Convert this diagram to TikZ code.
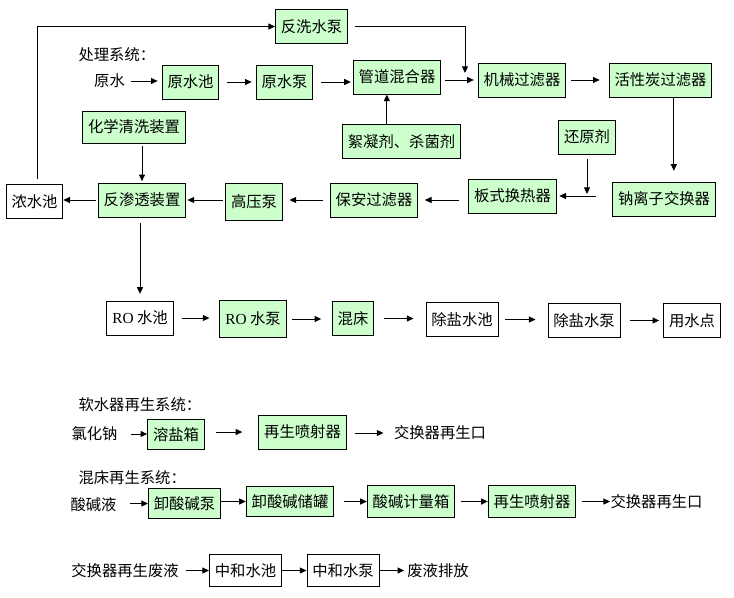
\documentclass[tikz,border=0pt]{standalone}
\usepackage{fontspec}
\setmainfont{Noto Sans CJK SC}
\newfontfamily\romanfont{Liberation Serif}
\usetikzlibrary{
		arrows.meta,
		positioning
	}
\definecolor{boxgreen}{HTML}{CCFFCC}
\tikzset{
		>={Triangle[length=5pt,width=4.5pt]},
		box/.style={draw,fill=boxgreen,inner xsep=4pt,inner ysep=0pt,minimum height=25.5pt},
		pool/.style={box,fill=white},
		word/.style={inner sep=0pt},
		flow/.style={->,shorten <=4.5pt,shorten >=3pt}
	}

\begin{document}
\begin{tikzpicture}[x=0.75pt,y=-0.75pt,line width=0.75pt,font=\fontsize{11.5pt}{13pt}\selectfont]
\useasboundingbox (0,0) rectangle (734,597);

\node[word,anchor=west] (chuli) at (78,55) {处理系统：};
\node[word] (yuanshui) at (109.5,81) {原水};
\node[box] (yuanshuichi) at (190.5,82) {原水池};
\node[box] (yuanshuibeng) at (284.5,82) {原水泵};
\node[box] (guandao) at (397,77) {管道混合器};
\node[box] (jixie) at (522,80) {机械过滤器};
\node[box] (huoxing) at (660.5,80) {活性炭过滤器};
\node[box] (fanxi) at (311.5,26.5) {反洗水泵};
\node[box] (xuning) at (401.5,141.5) {絮凝剂、杀菌剂};
\node[box] (huanyuan) at (587,137) {还原剂};
\node[box,minimum height=24pt] (huaxue) at (134,127) {化学清洗装置};
\node[box] (nali) at (664,199) {钠离子交换器};
\node[box] (banshi) at (512.5,196) {板式换热器};
\node[box] (baoan) at (374,200) {保安过滤器};
\node[box,minimum height=28pt] (gaoya) at (254,202) {高压泵};
\node[box] (fanshen) at (142,200) {反渗透装置};
\node[pool] (nongshui) at (34.5,201.5) {浓水池};

\node[pool] (ROchi) at (140,318) {{\romanfont RO} 水池};
\node[box,minimum height=28pt] (RObeng) at (253,319) {{\romanfont RO} 水泵};
\node[box] (hunchuang) at (353,318.5) {混床};
\node[pool] (chuyanchi) at (462,319.5) {除盐水池};
\node[pool] (chuyanbeng) at (584,320.5) {除盐水泵};
\node[pool] (yongshui) at (692,320.5) {用水点};

\node[word,anchor=west] (ruanshui) at (78,405) {软水器再生系统：};
\node[word] (lvhuana) at (94.5,434) {氯化钠};
\node[box,minimum height=22pt] (rongyan) at (176,434.5) {溶盐箱};
\node[box] (penshe) at (302.5,432) {再生喷射器};
\node[word] (kou) at (440,433) {交换器再生口};

\node[word,anchor=west] (hunchuangxi) at (78,478) {混床再生系统：};
\node[word] (suanjianye) at (93.5,505) {酸碱液};
\node[box,minimum height=23pt] (xiebeng) at (184.5,503.5) {卸酸碱泵};
\node[box,minimum height=23pt] (xieguan) at (290,501.5) {卸酸碱储罐};
\node[box,minimum height=24.5pt] (jiliang) at (411,501.5) {酸碱计量箱};
\node[box,minimum height=24.5pt] (penshe2) at (532,501.5) {再生喷射器};
\node[word] (kou2) at (656.5,502) {交换器再生口};

\node[word] (feiye) at (125,571) {交换器再生废液};
\node[pool,minimum height=24.5pt] (zhonghechi) at (245.5,570.5) {中和水池};
\node[pool,minimum height=24.5pt] (zhonghebeng) at (343,570.5) {中和水泵};
\node[word] (paifang) at (438,571) {废液排放};

\coordinate (fanxiend) at (465,73);

\draw[flow] (yuanshui.east) -- (yuanshui.east -| yuanshuichi.west);
\draw[flow,shorten <=6pt] (yuanshuichi.east) -- (yuanshuichi.east -| yuanshuibeng.west);
\draw[flow,shorten <=6pt,shorten >=1.5pt] (yuanshuibeng.east) -- (yuanshuibeng.east -| guandao.west);
\draw[flow,shorten <=3pt] (guandao.east |- jixie.west) -- (jixie.west);
\draw[flow,shorten <=3.75pt,shorten >=6.75pt] (jixie.east) -- (jixie.east -| huoxing.west);
\draw[flow,shorten <=5pt,shorten >=0pt] (fanxi.east) -| (fanxiend);
\draw[flow,shorten <=0pt,shorten >=0pt] ([xshift=-11pt]xuning.north) -- ([xshift=-11pt]xuning.north |- guandao.south);
\draw[flow,shorten <=0pt,shorten >=8pt] ([xshift=10pt]huoxing.south) -- ([xshift=10pt]huoxing.south |- nali.north);
\draw[flow,shorten <=12pt,shorten >=2pt] (nali.west |- banshi.east) -- (banshi.east);
\draw[flow,shorten <=3.5pt,shorten >=1.5pt] (huanyuan) -- (huanyuan |- banshi.east);
\draw[flow,shorten <=6.75pt,shorten >=5pt] (banshi.west |- baoan.east) -- (baoan.east);
\draw[flow,shorten <=5pt,shorten >=5pt] (baoan.west) -- (baoan.west -| gaoya.east);
\draw[flow,shorten <=2pt,shorten >=1pt] (gaoya.west |- fanshen.east) -- (fanshen.east);
\draw[flow,shorten <=1.5pt,shorten >=0pt] (fanshen.west) -- (fanshen.west -| nongshui.east);
\draw[flow,shorten <=2pt,shorten >=1pt] (fanshen |- huaxue.south) -- (fanshen.north);
\draw[flow,shorten <=3.4pt,shorten >=0pt] ([xshift=2.6pt]nongshui.north) |- (fanxi.west);
\draw[flow,shorten <=4pt,shorten >=5pt] (ROchi |- fanshen.south) -- (ROchi.north);

\draw[flow,shorten <=6pt,shorten >=7.5pt] (ROchi.east) -- (ROchi.east -| RObeng.west);
\draw[flow,shorten <=3.75pt,shorten >=8pt] (RObeng.east) -- (RObeng.east -| hunchuang.west);
\draw[flow,shorten <=7.5pt,shorten >=9pt] (hunchuang.east) -- (hunchuang.east -| chuyanchi.west);
\draw[flow,shorten <=5pt,shorten >=9pt] (chuyanchi.east) -- (chuyanchi.east -| chuyanbeng.west);
\draw[flow,shorten <=7pt,shorten >=3pt] (chuyanbeng.east) -- (chuyanbeng.east -| yongshui.west);

\draw[flow,shorten <=10pt,shorten >=0pt] (lvhuana.east) -- (lvhuana.east -| rongyan.west);
\draw[flow,shorten <=8pt,shorten >=12pt] (rongyan.east |- penshe.west) -- (penshe.west);
\draw[flow,shorten <=6pt,shorten >=7.5pt] (penshe.east |- kou.west) -- (kou.west);

\draw[flow,shorten <=10pt,shorten >=0pt] (suanjianye.east |- xiebeng.west) -- (xiebeng.west);
\draw[flow,shorten <=0pt,shorten >=0pt] (xiebeng.east |- xieguan.west) -- (xieguan.west);
\draw[flow,shorten <=7pt,shorten >=0pt] (xieguan.east) -- (xieguan.east -| jiliang.west);
\draw[flow,shorten <=4.5pt,shorten >=0pt] (jiliang.east) -- (jiliang.east -| penshe2.west);
\draw[flow,shorten <=4pt,shorten >=0pt] (penshe2.east) -- (penshe2.east -| kou2.west);

\draw[flow,shorten <=5pt,shorten >=0pt] (feiye.east |- zhonghechi.west) -- (zhonghechi.west);
\draw[flow,shorten <=0pt,shorten >=0pt] (zhonghechi.east) -- (zhonghebeng.west);
\draw[flow,shorten <=0pt,shorten >=2pt] (zhonghebeng.east) -- (zhonghebeng.east -| paifang.west);
\end{tikzpicture}
\end{document}
